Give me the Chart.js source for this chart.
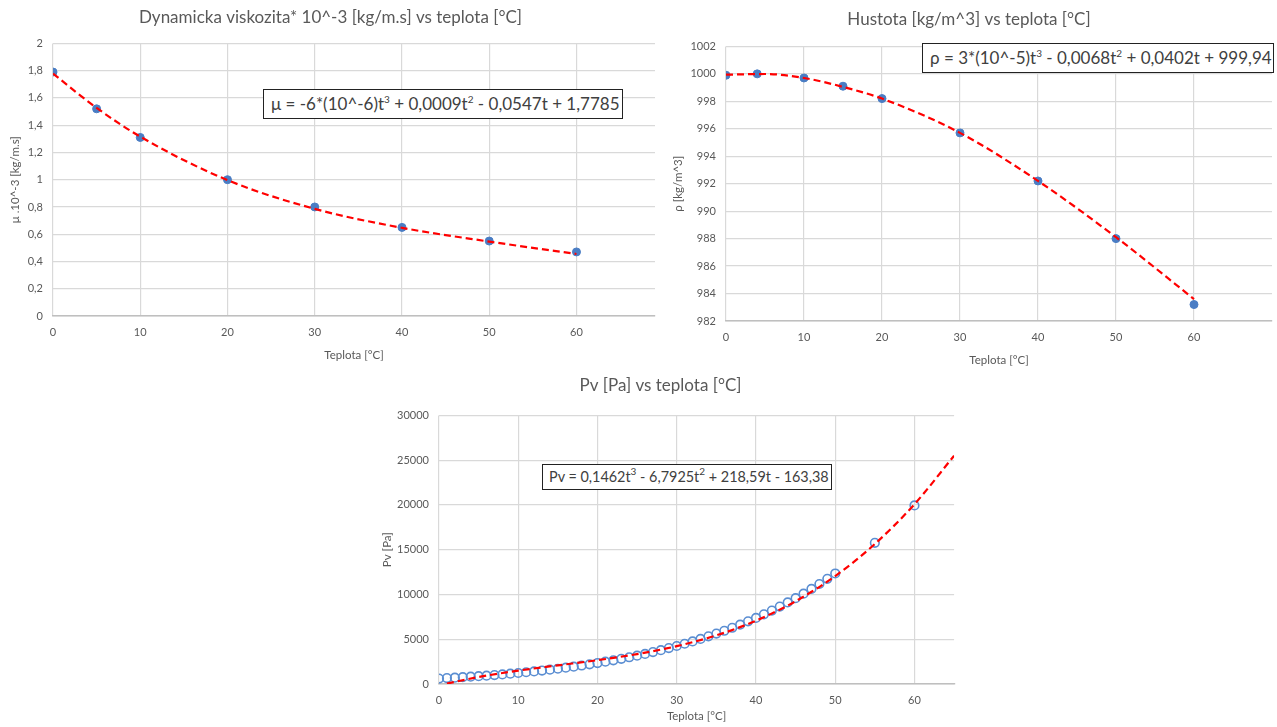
<!DOCTYPE html>
<html>
<head>
<meta charset="utf-8">
<script src="https://cdn.jsdelivr.net/npm/chart.js@4.4.1/dist/chart.umd.min.js"></script>
<style>
  body { margin: 0; background: #fff; width: 1277px; height: 727px; overflow: hidden; position: relative; font-family: Lato, sans-serif; }
  .box { position: absolute; }
  .eq { position: absolute; border: 1.6px solid #222; background: #fff; color: #404040; font-family: Lato, sans-serif; font-size: 17px; white-space: nowrap; padding: 3px 6px 2px 7px; box-sizing: border-box; }
  .eq sup { font-size: 10px; vertical-align: 7px; line-height: 0; }
</style>
</head>
<body>
<div class="box" style="left:6px;top:0;width:654px;height:366px"><canvas id="c1"></canvas></div>
<div class="box" style="left:665px;top:0;width:612px;height:371px"><canvas id="c2"></canvas></div>
<div class="box" style="left:366px;top:370px;width:594px;height:357px"><canvas id="c3"></canvas></div>

<div class="eq" style="left:263px;top:89px;width:360px;height:30px">μ = -6*(10^-6)t<sup>3</sup> + 0,0009t<sup>2</sup> - 0,0547t + 1,7785</div>
<div class="eq" style="left:922px;top:43px;width:352px;height:30px">ρ = 3*(10^-5)t<sup>3</sup> - 0,0068t<sup>2</sup> + 0,0402t + 999,94</div>
<div class="eq" style="left:542px;top:464px;width:290px;height:26px;font-size:14.4px;padding:3px 0 0 6px">Pv = 0,1462t<sup>3</sup> - 6,7925t<sup>2</sup> + 218,59t - 163,38</div>

<script>
// viskozita
const visT = [0, 5, 10, 20, 30, 40, 50, 60];
const visMu = [1.79, 1.52, 1.31, 1.00, 0.80, 0.65, 0.55, 0.47];
const visTrendT = [0, 5, 10, 20, 30, 40, 50, 60];
const visTrendMu = [1.778, 1.527, 1.316, 0.997, 0.786, 0.647, 0.546, 0.455];

// hustota
const rhoT = [0, 4, 10, 15, 20, 30, 40, 50, 60];
const rhoVal = [999.9, 1000.0, 999.7, 999.1, 998.2, 995.7, 992.2, 988.0, 983.2];
const rhoTrendT = [0, 5, 10, 15, 20, 30, 40, 50, 60];
const rhoTrendVal = [999.94, 999.99, 999.7, 999.05, 998.2, 995.7, 992.2, 988.1, 983.6];

// tlak par
const pvT = [0,1,2,3,4,5,6,7,8,9,10,11,12,13,14,15,16,17,18,19,20,21,22,23,24,25,26,27,28,29,30,
  31,32,33,34,35,36,37,38,39,40,41,42,43,44,45,46,47,48,49,50,55,60];
const pvVal = [611,657,706,758,813,872,935,1002,1073,1148,1228,1313,1403,1498,1599,1706,1819,1938,2064,2198,
  2339,2488,2645,2810,2985,3169,3363,3567,3782,4008,4246,4495,4758,5034,5323,5627,5945,6280,6630,6997,
  7381,7784,8205,8646,9108,9590,10094,10620,11171,11745,12344,15763,19944];
const pvTrendT = [1, 5, 10, 15, 20, 25, 30, 35, 40, 45, 50, 55, 60, 65];
const pvTrendVal = [50, 780, 1490, 2080, 2660, 3340, 4230, 5430, 7070, 9240, 12060, 15640, 20080, 25500];

const TXT = '#595959';
const GRID = '#d9d9d9';
const BLUE = '#4a7dc4';
const RED = '#ff0000';

function pts(xs, ys) { return xs.map((x, i) => ({ x: x, y: ys[i] })); }
function comma(v, dec) { return v.toFixed(dec).replace('.', ','); }

function makeChart(id, o) {
  return new Chart(id, {
    type: 'scatter',
    data: {
      datasets: [{
        data: pts(o.trendX, o.trendY),
        showLine: true,
        borderColor: RED,
        borderWidth: 2.2,
        borderDash: [7, 4],
        cubicInterpolationMode: 'monotone',
        pointRadius: 0,
        order: 0
      }, {
        data: pts(o.x, o.y),
        backgroundColor: o.open ? 'rgba(0,0,0,0)' : BLUE,
        borderColor: o.open ? '#5b8ed2' : BLUE,
        borderWidth: o.open ? 1.6 : 1,
        pointRadius: o.open ? 4.3 : 4,
        order: 1
      }]
    },
    options: {
      responsive: true,
      maintainAspectRatio: false,
      animation: false,
      layout: { padding: o.pad },
      plugins: {
        legend: { display: false },
        tooltip: { enabled: false },
        title: {
          display: true,
          text: o.title,
          color: TXT,
          font: { family: 'Lato', size: 17, weight: 'normal' },
          padding: o.titlePad
        }
      },
      scales: {
        x: {
          type: 'linear',
          min: 0,
          max: o.xMax,
          afterBuildTicks: s => { s.ticks = s.ticks.filter(t => Math.round(t.value) % 10 === 0 && t.value <= 60.5); },
          afterFit: s => { s.height = o.xH; },
          grid: { color: GRID, lineWidth: 1.2, drawTicks: false },
          border: { display: true, color: '#bfbfbf', width: 1.5 },
          ticks: { stepSize: 10, color: TXT, font: { family: 'Lato', size: 11 }, padding: 10 },
          title: { display: true, text: 'Teplota [°C]', color: TXT, font: { family: 'Lato', size: 11.5 }, padding: { top: 4, bottom: 4 } }
        },
        y: {
          min: o.yMin,
          max: o.yMax,
          afterFit: s => { s.width = o.yW; },
          grid: { color: GRID, lineWidth: 1.2, drawTicks: false },
          border: { display: false },
          ticks: { stepSize: o.yStep, color: TXT, font: { family: 'Lato', size: 11 }, padding: 10, callback: o.yFmt },
          title: { display: true, text: o.yTitle, color: TXT, font: { family: 'Lato', size: 11.5 }, padding: o.yTitlePad }
        }
      }
    }
  });
}

makeChart('c1', {
  title: 'Dynamicka viskozita* 10^-3 [kg/m.s] vs teplota [°C]',
  x: visT, y: visMu, trendX: visTrendT, trendY: visTrendMu,
  xMax: 69, yMin: 0, yMax: 2, yStep: 0.2,
  yFmt: v => comma(Math.round(v * 10) / 10, Math.round(v * 10) % 10 === 0 ? 0 : 1),
  yTitle: 'μ .10^-3 [kg/m.s]',
  pad: { left: 0, right: 5, top: 0, bottom: 0 },
  titlePad: { top: 7, bottom: 16 },
  xH: 50, yW: 47, yTitlePad: { top: 2, bottom: 0 }
});

makeChart('c2', {
  title: 'Hustota [kg/m^3] vs teplota [°C]',
  x: rhoT, y: rhoVal, trendX: rhoTrendT, trendY: rhoTrendVal,
  xMax: 70, yMin: 982, yMax: 1002, yStep: 2,
  yFmt: v => String(v),
  yTitle: 'ρ [kg/m^3]',
  pad: { left: 0, right: 4, top: 0, bottom: 0 },
  titlePad: { top: 9, bottom: 17 },
  xH: 50, yW: 61, yTitlePad: { top: 6, bottom: 0 }
});

makeChart('c3', {
  title: 'Pv [Pa] vs teplota [°C]',
  x: pvT, y: pvVal, trendX: pvTrendT, trendY: pvTrendVal, open: true,
  xMax: 65, yMin: 0, yMax: 30000, yStep: 5000,
  yFmt: v => String(v),
  yTitle: 'Pv [Pa]',
  pad: { left: 0, right: 5, top: 0, bottom: 0 },
  titlePad: { top: 5, bottom: 20 },
  xH: 43, yW: 73, yTitlePad: { top: 14, bottom: 0 }
});
</script>
</body>
</html>
